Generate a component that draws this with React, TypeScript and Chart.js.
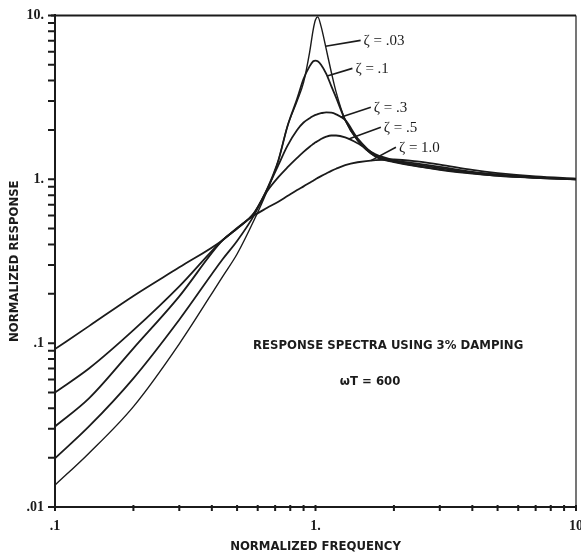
import React, { useEffect, useRef } from 'react';
import { Chart, registerables } from 'chart.js';
Chart.register(...registerables);

// Normalized frequency samples (shared by all curves)
const freq = [0.1, 0.135, 0.2, 0.3, 0.44, 0.5, 0.58, 0.65, 0.72, 0.78, 0.85, 0.9, 0.95, 0.98, 1.0, 1.02, 1.05, 1.1, 1.15, 1.2, 1.3, 1.45, 1.7, 2.0, 2.5, 3.0, 4.0, 5.0, 7.0, 10];

const zeta003 = [0.0136, 0.0213, 0.041, 0.099, 0.255, 0.35, 0.56, 0.84, 1.3, 2.1, 3.0, 3.9, 6.0, 8.2, 9.4, 9.8, 8.6, 6.2, 4.5, 3.4, 2.3, 1.72, 1.37, 1.27, 1.19, 1.14, 1.08, 1.05, 1.02, 1.0];
const zeta01 = [0.0198, 0.031, 0.061, 0.139, 0.325, 0.42, 0.6, 0.86, 1.3, 2.1, 3.1, 4.1, 4.9, 5.25, 5.3, 5.25, 5.0, 4.4, 3.7, 3.15, 2.3, 1.74, 1.38, 1.28, 1.2, 1.15, 1.09, 1.05, 1.02, 1.0];
const zeta03 = [0.031, 0.046, 0.093, 0.193, 0.425, 0.5, 0.62, 0.86, 1.22, 1.6, 2.0, 2.22, 2.36, 2.43, 2.47, 2.5, 2.53, 2.56, 2.55, 2.49, 2.3, 1.78, 1.4, 1.29, 1.22, 1.17, 1.1, 1.06, 1.02, 1.0];
const zeta05 = [0.05, 0.07, 0.12, 0.222, 0.425, 0.5, 0.62, 0.84, 1.03, 1.18, 1.35, 1.47, 1.58, 1.64, 1.68, 1.71, 1.76, 1.82, 1.85, 1.85, 1.8, 1.66, 1.42, 1.31, 1.24, 1.19, 1.11, 1.07, 1.03, 1.0];
const zeta10 = [0.092, 0.127, 0.194, 0.29, 0.425, 0.505, 0.6, 0.667, 0.73, 0.79, 0.86, 0.905, 0.952, 0.98, 1.0, 1.02, 1.045, 1.085, 1.125, 1.16, 1.22, 1.27, 1.31, 1.32, 1.28, 1.23, 1.14, 1.09, 1.04, 1.01];

const seriesValues = [zeta003, zeta01, zeta03, zeta05, zeta10];
const seriesLabels = ['ζ = .03', 'ζ = .1', 'ζ = .3', 'ζ = .5', 'ζ = 1.0'];

// Leader lines: start frequency on the curve, label anchor (frequency, value)
const leaderStartFreq = [1.093, 1.109, 1.249, 1.341, 1.631];
const leaderEndFreq = [1.49, 1.386, 1.631, 1.782, 2.036];
const leaderEndValue = [7.04, 4.75, 2.75, 2.075, 1.567];

const xTickValues = [0.1, 1, 10];
const xTickLabels = ['.1', '1.', '10'];
const yTickValues = [0.01, 0.1, 1, 10];
const yTickLabels = ['.01', '.1', '1.', '10.'];
// minor tick multipliers within each decade
const minorSteps = [1, 2, 3, 4, 5, 6, 7, 8, 9];

const noteLines = ['RESPONSE SPECTRA USING 3% DAMPING', 'ωT = 600'];
const noteFreq = [1.9, 1.62];
const noteValue = [0.096, 0.0586];

const INK = '#1b1b1b';
const CONDENSED = '"DejaVu Sans Condensed", "DejaVu Sans", sans-serif';

function matchLabel(v: number, vals: number[], labels: string[]) {
  for (let i = 0; i < vals.length; i++) {
    if (Math.abs(v - vals[i]) / vals[i] < 1e-6) return labels[i];
  }
  return '';
}

function interpLog(xs: number[], ys: number[], x: number) {
  for (let i = 0; i < xs.length - 1; i++) {
    if (x >= xs[i] && x <= xs[i + 1]) {
      const t = (Math.log(x) - Math.log(xs[i])) / (Math.log(xs[i + 1]) - Math.log(xs[i]));
      return Math.exp(Math.log(ys[i]) + t * (Math.log(ys[i + 1]) - Math.log(ys[i])));
    }
  }
  return ys[ys.length - 1];
}

function decadeTicks(decades: number[]) {
  const out: number[] = [];
  for (let d = 0; d < decades.length - 1; d++) {
    for (const m of minorSteps) out.push(decades[d] * m);
  }
  out.push(decades[decades.length - 1]);
  return out;
}

const annotations = {
  id: 'annotations',
  afterDraw(chart: any) {
    const { ctx, chartArea } = chart;
    const xs = chart.scales.x;
    const ys = chart.scales.y;
    ctx.save();
    ctx.strokeStyle = INK;
    ctx.lineCap = 'butt';
    // frame top & right
    ctx.lineWidth = 2;
    ctx.beginPath();
    ctx.moveTo(chartArea.left - 4, chartArea.top);
    ctx.lineTo(chartArea.right, chartArea.top);
    ctx.stroke();
    ctx.lineWidth = 1.2;
    ctx.beginPath();
    ctx.moveTo(chartArea.right, chartArea.top);
    ctx.lineTo(chartArea.right, chartArea.bottom);
    ctx.stroke();

    // tick marks at every decade step
    ctx.lineWidth = 2;
    ctx.beginPath();
    for (const v of decadeTicks(yTickValues)) {
      const y = ys.getPixelForValue(v);
      ctx.moveTo(chartArea.left - 7, y);
      ctx.lineTo(chartArea.left, y);
    }
    for (const v of decadeTicks(xTickValues)) {
      const x = xs.getPixelForValue(v);
      ctx.moveTo(x, chartArea.bottom - 2);
      ctx.lineTo(x, chartArea.bottom + 4);
    }
    ctx.stroke();

    // leaders & labels
    ctx.lineWidth = 1.6;
    ctx.fillStyle = INK;
    ctx.font = '15px "Liberation Serif", serif';
    ctx.textBaseline = 'middle';
    ctx.textAlign = 'left';
    for (let i = 0; i < seriesLabels.length; i++) {
      const sv = interpLog(freq, seriesValues[i], leaderStartFreq[i]);
      const x0 = xs.getPixelForValue(leaderStartFreq[i]);
      const y0 = ys.getPixelForValue(sv);
      const x1 = xs.getPixelForValue(leaderEndFreq[i]);
      const y1 = ys.getPixelForValue(leaderEndValue[i]);
      ctx.beginPath();
      ctx.moveTo(x0, y0);
      ctx.lineTo(x1, y1);
      ctx.stroke();
      ctx.fillText(seriesLabels[i], x1 + 3, y1 + 1);
    }

    // note text
    ctx.textAlign = 'center';
    ctx.font = 'bold 13px ' + CONDENSED;
    ctx.fillText(noteLines[0], xs.getPixelForValue(noteFreq[0]), ys.getPixelForValue(noteValue[0]));
    ctx.fillText(noteLines[1], xs.getPixelForValue(noteFreq[1]), ys.getPixelForValue(noteValue[1]));
    ctx.restore();
  },
};

export default function App() {
  const ref = useRef<HTMLCanvasElement>(null);
  useEffect(() => {
    const chart = new Chart(ref.current as HTMLCanvasElement, {
      type: 'line',
      data: {
        datasets: seriesValues.map((vals, i) => ({
          label: seriesLabels[i],
          data: freq.map((f, j) => ({ x: f, y: vals[j] })),
          borderColor: INK,
          borderWidth: i === 0 ? 1.4 : 1.8,
          pointRadius: 0,
          fill: false,
          cubicInterpolationMode: 'monotone' as const,
        })),
      },
      options: {
        responsive: false,
        animation: false,
        devicePixelRatio: 1,
        layout: { padding: { left: 0, right: 5, top: 15, bottom: 0 } },
        plugins: { legend: { display: false }, tooltip: { enabled: false } },
        scales: {
          x: {
            type: 'logarithmic',
            min: 0.1,
            max: 10,
            border: { display: true, color: INK, width: 2 },
            grid: { display: false, drawOnChartArea: false, drawTicks: true, tickLength: 4 },
            ticks: {
              autoSkip: false,
              maxRotation: 0,
              padding: 7,
              color: INK,
              font: { family: '"Liberation Serif", serif', size: 14, weight: 'bold' },
              callback: (v: any) => matchLabel(Number(v), xTickValues, xTickLabels),
            },
            title: {
              display: true,
              text: 'NORMALIZED FREQUENCY',
              color: INK,
              font: { family: CONDENSED, size: 13, weight: 'bold' },
              padding: { top: 0, bottom: 2 },
            },
            afterFit: (s: any) => {
              s.height = 49;
              s.paddingRight = 0;
              s.paddingLeft = 0;
            },
          },
          y: {
            type: 'logarithmic',
            min: 0.01,
            max: 10,
            border: { display: true, color: INK, width: 2 },
            grid: { display: false, drawOnChartArea: false, drawTicks: true, tickLength: 4 },
            ticks: {
              autoSkip: false,
              padding: 7,
              color: INK,
              font: { family: '"Liberation Serif", serif', size: 14, weight: 'bold' },
              callback: (v: any) => matchLabel(Number(v), yTickValues, yTickLabels),
            },
            title: {
              display: true,
              text: 'NORMALIZED RESPONSE',
              color: INK,
              font: { family: CONDENSED, size: 13, weight: 'bold' },
              padding: { top: 7, bottom: 0 },
            },
            afterFit: (s: any) => {
              s.width = 55;
            },
          },
        },
      },
      plugins: [annotations],
    });
    return () => chart.destroy();
  }, []);
  return (
    <div style={{ position: 'absolute', left: 0, top: 0, width: 581, height: 556, background: '#fff' }}>
      <canvas ref={ref} width={581} height={556} style={{ display: 'block', width: 581, height: 556 }} />
    </div>
  );
}
